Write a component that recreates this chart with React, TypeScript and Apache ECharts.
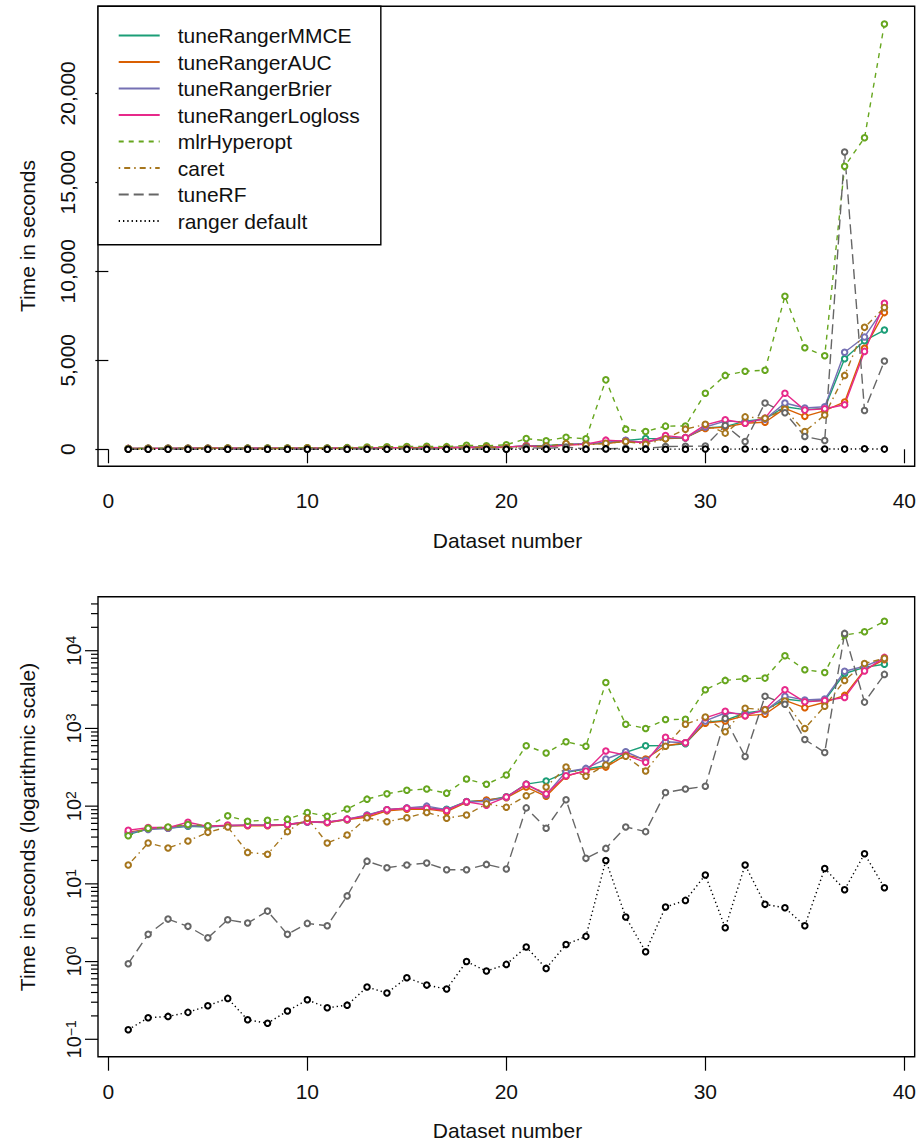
import React, { useEffect, useRef } from "react";
import * as echarts from "echarts";

const datasetNumbers = [1,2,3,4,5,6,7,8,9,10,11,12,13,14,15,16,17,18,19,20,21,22,23,24,25,26,27,28,29,30,31,32,33,34,35,36,37,38,39];

const tuneRangerMMCE = [43,51,52,55,54,56,57,57,58,63,62,67,76,90,94,95,91,115,118,132,192,210,272,301,331,492,599,600,635,1200,1270,1580,1710,2390,2230,2300,5090,6100,6700];
const tuneRangerAUC = [46,51,53,57,55,56,56,56,57,63,61,67,72,87,91,92,85,112,120,128,176,134,242,288,318,454,404,599,654,1170,1245,1460,1520,2300,1850,2170,2660,5670,7680];
const tuneRangerBrier = [45,50,52,56,55,56,57,57,58,62,62,68,77,90,95,100,90,114,115,130,190,140,277,306,404,501,389,674,654,1250,1580,1540,1680,2600,2320,2390,5450,6310,7960];
const tuneRangerLogloss = [49,53,53,62,55,57,57,57,58,63,62,68,75,90,94,94,88,114,103,131,191,144,246,283,512,454,366,768,654,1370,1660,1460,1750,3150,2200,2280,2500,5500,8200];
const mlrHyperopt = [41.6,51.8,53.8,58,56,75,64,66,68,83,74,92,123,144,160,166,147,223,191,251,599,482,674,589,3900,1130,1000,1300,1310,3150,4150,4380,4440,8600,5700,5250,15900,17500,23900];
const caret = [17.5,33.5,29,35.6,46,54,25.4,24,47,70,33.5,42.5,71,63,71,83,70,77,107,97,136,176,318,242,338,438,283,589,1130,1400,907,1820,1740,2250,1000,1930,4150,6850,7970];
const tuneRF = [0.94,2.24,3.52,2.84,2.02,3.45,3.13,4.46,2.24,3.1,2.89,7.0,19.6,16.1,17.5,18.5,15.2,15.2,17.8,15.5,95,52,121,21.3,28.6,54,47,150,166,180,1340,435,2600,2050,720,490,16700,2180,4960];
const rangerDefault = [0.133,0.189,0.197,0.222,0.27,0.336,0.178,0.161,0.231,0.322,0.254,0.275,0.47,0.394,0.62,0.498,0.443,1.0,0.755,0.92,1.54,0.817,1.66,2.11,20,3.74,1.34,5.03,6.13,13,2.72,17.5,5.45,4.92,2.89,15.8,8.4,24.4,8.9];

const seriesNames = ["tuneRangerMMCE","tuneRangerAUC","tuneRangerBrier","tuneRangerLogloss","mlrHyperopt","caret","tuneRF","ranger default"];
const seriesColors = ["#1B9E77","#D95F02","#7570B3","#E7298A","#66A61E","#A6761D","#666666","#000000"];
const seriesDash: any[] = ["solid","solid","solid","solid",[5,5],[1.5,4,6,4],[10,5],[1.3,3]];

const xTickLabels = [0,10,20,30,40];
const linearTickLabels = [0,5000,10000,15000,20000];
const logMajorTicks = [0.1,1,10,100,1000,10000];
const logMinorTicks = [0.2,0.3,0.4,0.5,0.6,0.7,0.8,0.9,2,3,4,5,6,7,8,9,20,30,40,50,60,70,80,90,200,300,400,500,600,700,800,900,2000,3000,4000,5000,6000,7000,8000,9000,20000,30000,40000];

const FONT = "'Liberation Sans', Arial, Helvetica, sans-serif";
const TXT = "#111";
const FS = 21;
const X_MIN = -0.52;
const X_MAX = 40.52;

export default function App() {
  const ref = useRef<HTMLDivElement>(null);
  useEffect(() => {
    document.body.style.margin = "0";
    const chart = echarts.init(ref.current as HTMLDivElement, null, { renderer: "svg" });
    const seriesValues = [tuneRangerMMCE, tuneRangerAUC, tuneRangerBrier, tuneRangerLogloss, mlrHyperopt, caret, tuneRF, rangerDefault];

    const lineSeries = (g: number) =>
      seriesNames.map((name, i) => ({
        type: "line",
        name,
        xAxisIndex: g,
        yAxisIndex: g,
        data: datasetNumbers.map((d, j) => [d, seriesValues[i][j]]),
        symbol: "emptyCircle",
        symbolSize: 5.5,
        lineStyle: { color: seriesColors[i], width: 1.4, type: seriesDash[i] },
        itemStyle: { color: seriesColors[i], borderColor: seriesColors[i], borderWidth: 1.4 },
        emphasis: { disabled: true },
        silent: true,
        clip: true,
      }));

    const tickSeries = (values: number[], len: number) => ({
      type: "custom",
      xAxisIndex: 1,
      yAxisIndex: 1,
      silent: true,
      clip: false,
      data: values.map((v) => [X_MIN, v]),
      encode: { x: 0, y: 1 },
      renderItem: (params: any, api: any) => {
        const p = api.coord([X_MIN, api.value(1)]);
        return {
          type: "line",
          shape: { x1: p[0] - len, y1: p[1], x2: p[0], y2: p[1] },
          style: { stroke: "#000", lineWidth: 1.2 },
        };
      },
    });

    const xAxisBase = (g: number) => ({
      gridIndex: g,
      type: "value",
      min: X_MIN,
      max: X_MAX,
      axisLine: { show: false },
      splitLine: { show: false },
      axisTick: { show: true, length: 14, customValues: xTickLabels, lineStyle: { color: "#000", width: 1.2 } },
      axisLabel: { customValues: xTickLabels, margin: 24, fontSize: FS, fontFamily: FONT, color: TXT },
    });

    const option: any = {
      animation: false,
      backgroundColor: "#fff",
      grid: [
        { left: 98, top: 6.3, width: 819, height: 460, show: true, borderColor: "#000", borderWidth: 1.4, backgroundColor: "transparent" },
        { left: 98, top: 596.7, width: 819, height: 460, show: true, borderColor: "#000", borderWidth: 1.4, backgroundColor: "transparent" },
      ],
      xAxis: [xAxisBase(0), xAxisBase(1)],
      yAxis: [
        {
          gridIndex: 0,
          type: "value",
          min: -957,
          max: 24890,
          axisLine: { show: false },
          splitLine: { show: false },
          axisTick: { show: true, length: 13, customValues: linearTickLabels, lineStyle: { color: "#000", width: 1.2 } },
          axisLabel: {
            customValues: linearTickLabels,
            rotate: 90,
            margin: 20,
            fontSize: FS,
            fontFamily: FONT,
            color: TXT,
            formatter: (v: number) => Math.round(v).toLocaleString("en-US"),
          },
        },
        {
          gridIndex: 1,
          type: "log",
          logBase: 10,
          min: Math.pow(10, -1.224),
          max: Math.pow(10, 4.695),
          axisLine: { show: false },
          splitLine: { show: false },
          minorTick: { show: false },
          axisTick: { show: false },
          axisLabel: {
            rotate: 90,
            margin: 14,
            color: TXT,
            fontFamily: FONT,
            formatter: (v: number) => {
              const l = Math.log10(v);
              const r = Math.round(l);
              if (Math.abs(l - r) > 1e-6) return "";
              return "{b|10}{s|" + (r < 0 ? "\u2212" + -r : String(r)) + "}";
            },
            rich: {
              b: { fontSize: 20, lineHeight: 20, verticalAlign: "bottom", fontFamily: FONT, color: TXT },
              s: { fontSize: 14, lineHeight: 14, verticalAlign: "top", fontFamily: FONT, color: TXT },
            },
          },
        },
      ],
      legend: {
        data: seriesNames,
        orient: "vertical",
        left: 98,
        top: 6.3,
        padding: [16, 21, 10.5, 19.7],
        itemWidth: 41,
        itemHeight: 14,
        itemGap: 0,
        borderColor: "#000",
        borderWidth: 1.4,
        borderRadius: 0,
        backgroundColor: "#fff",
        selectedMode: false,
        itemStyle: { opacity: 0 },
        textStyle: { fontSize: FS, fontFamily: FONT, color: TXT, lineHeight: 26.5, padding: [0, 0, 0, 13] },
      },
      graphic: [
        { type: "text", x: 27, y: 236, rotation: Math.PI / 2, style: { text: "Time in seconds", font: `${FS}px ${FONT}`, fill: TXT, align: "center", verticalAlign: "middle" } },
        { type: "text", x: 507.5, y: 540, style: { text: "Dataset number", font: `${FS}px ${FONT}`, fill: TXT, align: "center", verticalAlign: "middle" } },
        { type: "text", x: 27, y: 827, rotation: Math.PI / 2, style: { text: "Time in seconds (logarithmic scale)", font: `${FS}px ${FONT}`, fill: TXT, align: "center", verticalAlign: "middle" } },
        { type: "text", x: 507.5, y: 1130, style: { text: "Dataset number", font: `${FS}px ${FONT}`, fill: TXT, align: "center", verticalAlign: "middle" } },
      ],
      series: [
        ...lineSeries(0),
        ...lineSeries(1),
        tickSeries(logMajorTicks, 13),
        tickSeries(logMinorTicks, 7),
      ],
    };
    chart.setOption(option);
    return () => chart.dispose();
  }, []);
  return <div ref={ref} style={{ position: "absolute", left: 0, top: 0, width: 919, height: 1142 }} />;
}
